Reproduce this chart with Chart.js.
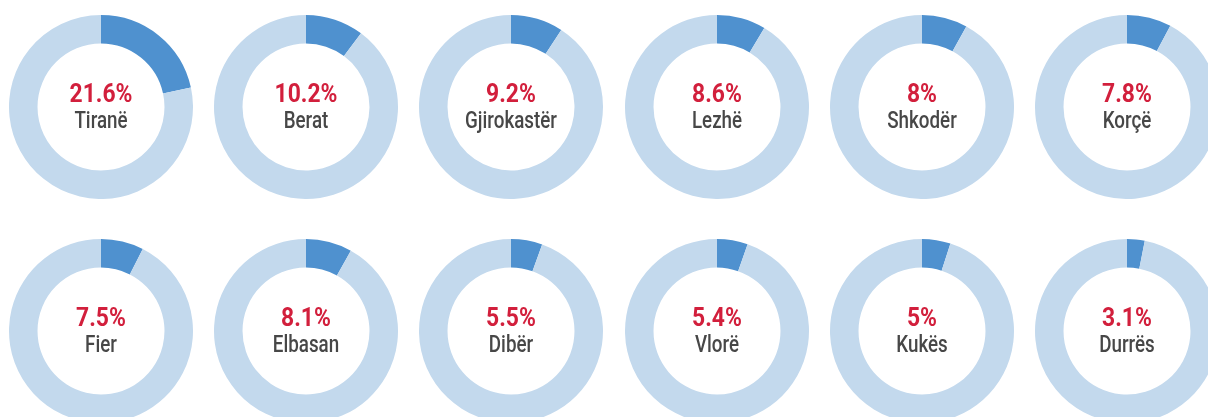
<!DOCTYPE html>
<html>
<head>
<meta charset="utf-8">
<script src="https://cdn.jsdelivr.net/npm/chart.js@4"></script>
<style>
  html, body { margin: 0; padding: 0; background: #fff; }
  body { width: 1208px; height: 417px; overflow: hidden; position: relative; }
  .box { position: absolute; width: 184px; height: 184px; }
</style>
</head>
<body>
<script>
const regions = ["Tiranë", "Berat", "Gjirokastër", "Lezhë", "Shkodër", "Korçë",
                 "Fier", "Elbasan", "Dibër", "Vlorë", "Kukës", "Durrës"];
const shares = [21.6, 10.2, 9.2, 8.6, 8, 7.8, 7.5, 8.1, 5.5, 5.4, 5, 3.1];

const colX = [101, 306, 511, 717, 922, 1127];
const rowY = [107, 331];

// condensed look: Roboto squeezed horizontally
function narrowText(ctx, text, x, y, sx) {
  ctx.save();
  ctx.translate(x, y);
  ctx.scale(sx, 1);
  ctx.fillText(text, 0, 0);
  ctx.restore();
}

const centerText = {
  id: "centerText",
  afterDraw(chart, args, opts) {
    const ctx = chart.ctx;
    const arc = chart.getDatasetMeta(0).data[0];
    const x = arc.x, y = arc.y;
    ctx.save();
    ctx.textAlign = "center";
    ctx.textBaseline = "alphabetic";
    ctx.fillStyle = "#d21f3c";
    ctx.font = "bold 26px Roboto, sans-serif";
    narrowText(ctx, opts.pct, x, y - 5.5, 0.88);
    ctx.fillStyle = "#474747";
    ctx.font = "500 23.5px Roboto, sans-serif";
    narrowText(ctx, opts.name, x, y + 21, 0.8);
    ctx.restore();
  }
};

regions.forEach(function(name, i) {
  const box = document.createElement("div");
  box.className = "box";
  box.style.left = (colX[i % 6] - 92) + "px";
  box.style.top = (rowY[Math.floor(i / 6)] - 92) + "px";
  const canvas = document.createElement("canvas");
  box.appendChild(canvas);
  document.body.appendChild(box);

  new Chart(canvas.getContext("2d"), {
    type: "doughnut",
    data: {
      labels: [name, "Other"],
      datasets: [{
        data: [shares[i], 100 - shares[i]],
        backgroundColor: ["#4f91cf", "#c3d9ed"],
        borderWidth: 0
      }]
    },
    options: {
      responsive: true,
      maintainAspectRatio: false,
      animation: false,
      cutout: "69%",
      layout: { padding: 0 },
      plugins: {
        legend: { display: false },
        tooltip: { enabled: false },
        centerText: { pct: shares[i] + "%", name: name }
      }
    },
    plugins: [centerText]
  });
});
</script>
</body>
</html>
